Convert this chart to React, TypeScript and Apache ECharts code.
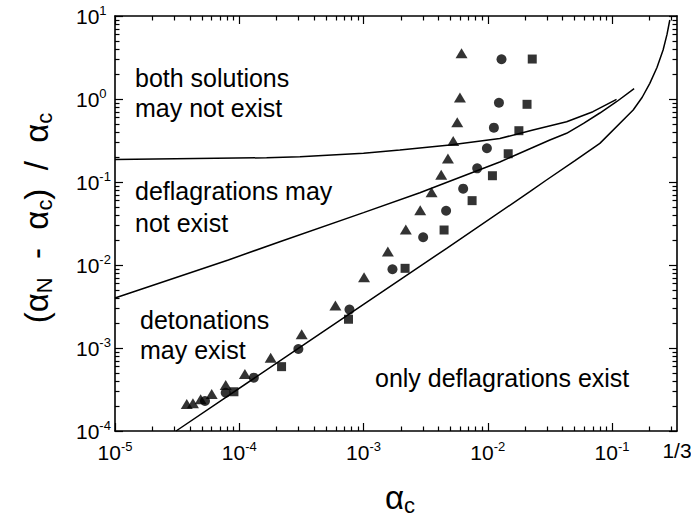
import React, { useEffect, useRef } from 'react';
import * as echarts from 'echarts';

// ---- axis ticks (decade exponents) ----
const xDecades = [-5, -4, -3, -2, -1];
const yDecades = [-4, -3, -2, -1, 0, 1];
const xMaxValue = 1 / 3;
const xMaxLabel = '1/3';

// ---- boundary curves (alpha_c, (alpha_N - alpha_c)/alpha_c) ----
const curveAx = [1e-5, 1.66e-4, 3.08e-4, 1e-3, 1.96e-3, 4.95e-3, 1.25e-2, 2.31e-2, 4.31e-2, 7.02e-2, 0.1087];
const curveAy = [0.187, 0.196, 0.202, 0.222, 0.243, 0.279, 0.334, 0.424, 0.533, 0.703, 0.99];

const curveBx = [1e-5, 8.17e-5, 2.12e-4, 1e-3, 2.84e-3, 4.12e-3, 1.25e-2, 3.16e-2, 4.31e-2, 5.9e-2, 7.98e-2, 0.1087, 0.1506];
const curveBy = [0.004, 0.0115, 0.0191, 0.0428, 0.0743, 0.092, 0.174, 0.321, 0.386, 0.51, 0.678, 0.927, 1.33];

const curveCx = [3.1e-5, 2.99e-4, 4.67e-3, 2.18e-2, 2.97e-2, 5.0e-2, 7.98e-2, 0.148, 0.175, 0.2014, 0.23, 0.2576, 0.277, 0.2917];
const curveCy = [1e-4, 9.9e-4, 0.0159, 0.0764, 0.1057, 0.18, 0.292, 0.736, 1.05, 1.545, 2.4, 3.89, 6.0, 8.95];

// ---- data points ----
const triX = [3.78e-5, 4.24e-5, 4.89e-5, 6.0e-5, 7.78e-5, 1.11e-4, 1.79e-4, 3.18e-4, 5.94e-4, 1.01e-3, 1.57e-3, 2.19e-3, 2.86e-3, 3.53e-3, 4.22e-3, 4.78e-3, 5.27e-3, 5.68e-3, 5.97e-3, 6.15e-3];
const triY = [2.11e-4, 2.16e-4, 2.41e-4, 2.79e-4, 3.58e-4, 4.86e-4, 7.64e-4, 1.46e-3, 3.25e-3, 7.11e-3, 1.45e-2, 2.67e-2, 4.56e-2, 7.53e-2, 0.122, 0.192, 0.312, 0.524, 1.04, 3.56];

const cirX = [5.3e-5, 7.78e-5, 1.31e-4, 2.99e-4, 7.71e-4, 1.71e-3, 3.02e-3, 4.62e-3, 6.34e-3, 8.22e-3, 9.84e-3, 1.12e-2, 1.23e-2, 1.29e-2];
const cirY = [2.3e-4, 2.89e-4, 4.39e-4, 9.72e-4, 2.9e-3, 8.89e-3, 2.16e-2, 4.5e-2, 8.32e-2, 0.146, 0.255, 0.451, 0.902, 3.01];

const sqX = [9.06e-5, 2.19e-4, 7.57e-4, 2.16e-3, 4.45e-3, 7.48e-3, 1.09e-2, 1.46e-2, 1.78e-2, 2.07e-2, 2.28e-2];
const sqY = [2.97e-4, 5.96e-4, 2.22e-3, 9.12e-3, 2.64e-2, 5.96e-2, 0.119, 0.219, 0.415, 0.863, 3.03];

const FONT = '"Liberation Sans", Arial, sans-serif';
const L = Math.log10;

const pairs = (xs: number[], ys: number[]) => xs.map((x, i) => [L(x), L(ys[i])]);

const xMin = xDecades[0];
const xMax = L(xMaxValue);
const yMin = yDecades[0];
const yMax = yDecades[yDecades.length - 1];

const minorX: number[] = [];
for (const d of xDecades) for (let k = 2; k <= 9; k++) { const v = L(k) + d; if (v <= xMax + 1e-9) minorX.push(v); }
for (let k = 2; k <= 9; k++) { const v = L(k) + 0; if (v <= xMax + 1e-9) minorX.push(v); }
const minorY: number[] = [];
for (const d of yDecades.slice(0, -1)) for (let k = 2; k <= 9; k++) minorY.push(L(k) + d);

const rich = {
  b: { fontSize: 21, fontFamily: FONT, color: '#000' },
  s: { fontSize: 13, fontFamily: FONT, color: '#000', padding: [0, 0, 11, 0] },
};

const fmtX = (v: number) => {
  if (Math.abs(v - xMax) < 1e-6) return '{b|' + xMaxLabel + '}';
  return '{b|10}{s|' + Math.round(v) + '}';
};
const fmtY = (v: number) => '{b|10}{s|' + Math.round(v) + '}';

const lineStyle = { color: '#000', width: 1.6 };
const tickStyle = { color: '#000', width: 1.2 };

function xAxisDef(position: string, ticks: number[], len: number, withLine: boolean, withLabel: boolean) {
  return {
    type: 'value', min: xMin, max: xMax, position,
    axisLine: { show: withLine, onZero: false, lineStyle },
    axisTick: { show: true, inside: true, length: len, customValues: ticks, lineStyle: tickStyle },
    axisLabel: withLabel
      ? { show: true, customValues: [...xDecades, xMax], formatter: fmtX, rich, margin: 9 }
      : { show: false },
    splitLine: { show: false },
  };
}
function yAxisDef(position: string, ticks: number[], len: number, withLine: boolean, withLabel: boolean) {
  return {
    type: 'value', min: yMin, max: yMax, position,
    axisLine: { show: withLine, onZero: false, lineStyle },
    axisTick: { show: true, inside: true, length: len, customValues: ticks, lineStyle: tickStyle },
    axisLabel: withLabel
      ? { show: true, customValues: yDecades, formatter: fmtY, rich, margin: 39, align: 'left' }
      : { show: false },
    splitLine: { show: false },
  };
}

const curveSeries = (xs: number[], ys: number[]) => ({
  type: 'line', data: pairs(xs, ys), showSymbol: false, smooth: false,
  lineStyle: { color: '#000', width: 1.5 }, xAxisIndex: 0, yAxisIndex: 0, z: 3,
});
const scatterSeries = (xs: number[], ys: number[], symbol: string, size: any) => ({
  type: 'scatter', data: pairs(xs, ys), symbol, symbolSize: size,
  itemStyle: { color: '#000' }, xAxisIndex: 0, yAxisIndex: 0, z: 4,
});

const textItem = (text: string, x: number, y: number) => ({
  type: 'text', x, y,
  style: { text, fontSize: 25, fontFamily: FONT, fill: '#000', align: 'left', verticalAlign: 'middle' },
});

const titleRich = {
  m: { fontSize: 33, fontFamily: FONT, fill: '#000', color: '#000' },
  s: { fontSize: 22, fontFamily: FONT, fill: '#000', color: '#000', padding: [16, 0, 0, 0] },
};

const option: any = {
  animation: false,
  backgroundColor: '#fff',
  grid: { left: 115, right: 14, top: 16, bottom: 91, containLabel: false, outerBoundsMode: 'none' },
  xAxis: [
    xAxisDef('bottom', xDecades, 8, true, true),
    xAxisDef('bottom', minorX, 4.5, false, false),
    xAxisDef('top', xDecades, 8, true, false),
    xAxisDef('top', minorX, 4.5, false, false),
  ],
  yAxis: [
    yAxisDef('left', yDecades, 8, true, true),
    yAxisDef('left', minorY, 4.5, false, false),
    yAxisDef('right', yDecades, 8, true, false),
    yAxisDef('right', minorY, 4.5, false, false),
  ],
  series: [
    curveSeries(curveAx, curveAy),
    curveSeries(curveBx, curveBy),
    curveSeries(curveCx, curveCy),
    scatterSeries(triX, triY, 'triangle', [12, 10]),
    scatterSeries(cirX, cirY, 'circle', 10),
    scatterSeries(sqX, sqY, 'rect', 9),
  ],
  graphic: [
    textItem('both solutions', 135, 78),
    textItem('may not exist', 135, 108),
    textItem('deflagrations may', 135, 191),
    textItem('not exist', 135, 223),
    textItem('detonations', 140, 320),
    textItem('may exist', 140, 350),
    textItem('only deflagrations exist', 375, 378),
    {
      type: 'text', x: 400, y: 497,
      style: { text: '{m|α}{s|c}', rich: titleRich, align: 'center', verticalAlign: 'middle' },
    },
    {
      type: 'text', x: 36, y: 218, rotation: Math.PI / 2,
      style: {
        text: '{m|(α}{s|N}{m|  -  α}{s|c}{m|)  /  α}{s|c}',
        rich: titleRich, align: 'center', verticalAlign: 'middle',
      },
    },
  ],
};

export default function App() {
  const ref = useRef<HTMLDivElement>(null);
  useEffect(() => {
    if (!ref.current) return;
    const chart = echarts.init(ref.current, null, { renderer: 'svg' });
    chart.setOption(option);
    return () => chart.dispose();
  }, []);
  return (
    <div
      ref={ref}
      style={{ position: 'fixed', left: 0, top: 0, width: 691, height: 522, background: '#fff' }}
    />
  );
}
